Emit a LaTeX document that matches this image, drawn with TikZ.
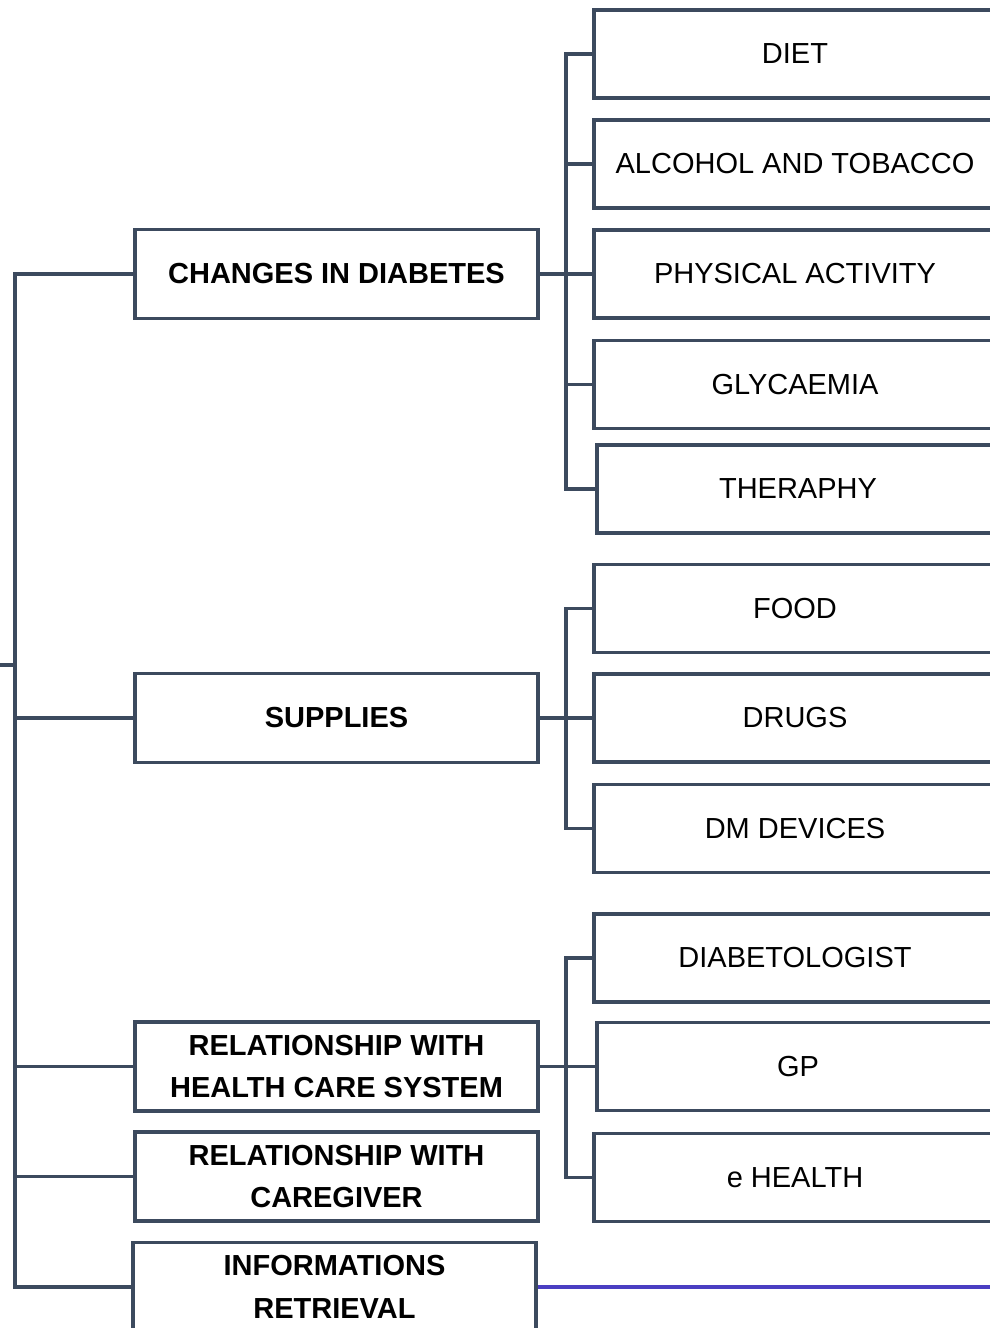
\documentclass[tikz,border=0pt]{standalone}
\usepackage{fontspec}
\setmainfont{Liberation Sans}
\usetikzlibrary{positioning,calc}
\definecolor{slate}{HTML}{3C4A5E}
\definecolor{indigo}{HTML}{4A3EC2}

\begin{document}
\begin{tikzpicture}[x=0.02cm, y=-0.02cm,
  every node/.style={draw=slate, line width=2pt, rectangle, inner sep=2pt,
    font=\fontsize{16.5}{24.4}\selectfont, align=center},
  topic/.style={minimum width=8.06cm, minimum height=1.78cm, font=\fontsize{16.5}{24.4}\selectfont\bfseries},
  item/.style={minimum width=8.04cm, minimum height=1.76cm},
  conn/.style={slate, line width=2pt, line join=miter},
  web/.style={indigo, line width=2.3pt}]
  \clip (0,0) rectangle (990,1328);
  \useasboundingbox (0,0) rectangle (990,1328);

  % main topics
  \node[topic] (changes) at (336.5, 274) {CHANGES IN DIABETES};
  \node[topic] (supplies) at (336.5, 718) {SUPPLIES};
  \node[topic] (relhcs) at (336.5, 1066.5) {RELATIONSHIP WITH\\HEALTH CARE SYSTEM};
  \node[topic] (relcare) at (336.5, 1176.5) {RELATIONSHIP WITH\\CAREGIVER};
  \node[topic] (info) at (334.5, 1287) {INFORMATIONS\\RETRIEVAL};

  % sub items
  \node[item] (diet) at (795, 54) {DIET};
  \node[item] (alcohol) at (795, 164) {ALCOHOL AND TOBACCO};
  \node[item] (physical) at (795, 274) {PHYSICAL ACTIVITY};
  \node[item] (glyc) at (795, 384.5) {GLYCAEMIA};
  \node[item] (therapy) at (798, 489) {THERAPHY};

  \node[item] (food) at (795, 608.5) {FOOD};
  \node[item] (drugs) at (795, 718) {DRUGS};
  \node[item] (devices) at (795, 828.5) {DM DEVICES};

  \node[item] (diabet) at (795, 958) {DIABETOLOGIST};
  \node[item] (gp) at (798, 1066.5) {GP};
  \node[item] (ehealth) at (795, 1177.5) {e HEALTH};

  % trunk and buses
  \coordinate (trunk) at (15, 0);
  \coordinate (stub) at (0, 665);
  \coordinate (bus) at (566, 0);
  \coordinate (rim) at (1000, 1287);

  \draw[conn] (changes.west) -- (changes.west -| trunk) |- (info.west);
  \draw[conn] (supplies.west) -- (supplies.west -| trunk);
  \draw[conn] (relhcs.west) -- (relhcs.west -| trunk);
  \draw[conn] (relcare.west) -- (relcare.west -| trunk);
  \draw[conn] (stub) -- (stub -| trunk);

  \draw[conn] (changes.east) -- (physical.west);
  \draw[conn] (diet.west) -- (diet.west -| bus) |- (therapy.west);
  \draw[conn] (alcohol.west) -- (alcohol.west -| bus);
  \draw[conn] (glyc.west) -- (glyc.west -| bus);

  \draw[conn] (supplies.east) -- (drugs.west);
  \draw[conn] (food.west) -- (food.west -| bus) |- (devices.west);

  \draw[conn] (relhcs.east) -- (gp.west);
  \draw[conn] (diabet.west) -- (diabet.west -| bus) |- (ehealth.west);

  \draw[web] (info.east) -- (rim);
\end{tikzpicture}
\end{document}
